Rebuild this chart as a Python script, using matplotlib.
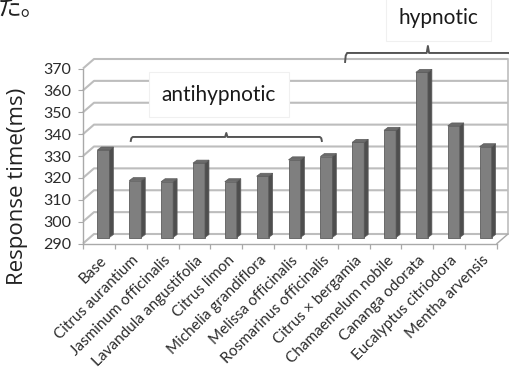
import matplotlib
matplotlib.use("Agg")
import matplotlib.pyplot as plt
from matplotlib.patches import Polygon
from matplotlib.transforms import ScaledTranslation

# ---- data -------------------------------------------------------------
categories = [
    "Base", "Citrus aurantium", "Jasminum officinalis", "Lavandula angustifolia",
    "Citrus limon", "Michelia grandiflora", "Melissa officinalis",
    "Rosmarinus officinalis", "Citrus \u00d7 bergamia", "Chamaemelum nobile",
    "Cananga odorata", "Eucalyptus citriodora", "Mentha arvensis",
]
response_ms = [330, 316, 315.5, 324, 315.5, 318, 325.5, 327, 333.5, 339, 365.5, 341, 331.5]
y_ticks = [290, 300, 310, 320, 330, 340, 350, 360, 370]
y_min, y_max = 290, 370

# group brackets: (start, end, tick position) in category units
antihypnotic_span = (1.0, 7.0, 4.0)
hypnotic_span = (7.73, 12.95, 10.33)

# ---- figure / axes ----------------------------------------------------
W, H = 510, 378
fig = plt.figure(figsize=(W / 100, H / 100), dpi=100)
fig.patch.set_facecolor("white")

L, R, B, T = 83, 497, 243.5, 68.5          # front plane in pixels
ax = fig.add_axes([L / W, 1 - B / H, (R - L) / W, (B - T) / H])
n = len(categories)
ax.set_xlim(-0.5, n - 0.5)
ax.set_ylim(y_min, y_max)
ax.set_facecolor("none")

px_x = (R - L) / n
px_y = (B - T) / (y_max - y_min)
dx = lambda p: p / px_x
dy = lambda p: p / px_y

grid_c = "#bdbdbd"
edge_c = "#a9a9a9"

# back-wall depth offset
bx, by = dx(11), dy(9.5)
x_lo, x_hi = -0.5, n - 0.5
for v in y_ticks:
    ax.plot([x_lo, x_lo + bx, x_hi + bx], [v, v + by, v + by],
            color=grid_c, lw=1.5, clip_on=False, zorder=1, solid_capstyle="butt")
ax.plot([x_hi + bx, x_hi + bx], [y_min + by, y_max + by], color=grid_c, lw=1.2,
        clip_on=False, zorder=1)
ax.plot([x_hi, x_hi + bx], [y_min, y_min + by], color=edge_c, lw=1.0,
        clip_on=False, zorder=1)

for side in ("top", "right"):
    ax.spines[side].set_visible(False)
for side in ("left", "bottom"):
    ax.spines[side].set_color(edge_c)
    ax.spines[side].set_linewidth(1.0)

# ---- 3D-looking columns ----------------------------------------------
ox, oy = dx(4.5), dy(6)      # columns sit part-way into the depth
w = dx(12)                   # front face width
sx, sy = dx(4), dy(3)        # column depth

front_c, side_c, top_c, line_c = "#7f7f7f", "#4e4e4e", "#6b6b6b", "#5c5c5c"
xs = [i + ox for i in range(n)]
heights = [v - y_min for v in response_ms]
ax.bar(xs, heights, bottom=y_min + oy, width=w, color=front_c,
       edgecolor=line_c, linewidth=0.6, zorder=3, clip_on=False)
for x, v in zip(xs, response_ms):
    xr = x + w / 2
    xl = x - w / 2
    top = v + oy
    side = Polygon([(xr, y_min + oy), (xr + sx, y_min + oy + sy),
                    (xr + sx, top + sy), (xr, top)], closed=True,
                   facecolor=side_c, edgecolor=line_c, linewidth=0.5,
                   zorder=3, clip_on=False)
    cap = Polygon([(xl, top), (xr, top), (xr + sx, top + sy), (xl + sx, top + sy)],
                  closed=True, facecolor=top_c, edgecolor=line_c, linewidth=0.5,
                  zorder=3, clip_on=False)
    ax.add_patch(side)
    ax.add_patch(cap)

# ---- ticks -------------------------------------------------------------
tick_font = "Lato"
ax.set_yticks(y_ticks)
ax.set_yticklabels([str(t) for t in y_ticks], fontsize=11.5, family=tick_font,
                   color="#2b2b2b")
ax.tick_params(axis="y", length=3.5, color=edge_c, pad=5)

ax.set_xticks(range(n))
ax.set_xticklabels(categories, rotation=45, ha="right", va="top",
                   rotation_mode="anchor", fontsize=11, family=tick_font,
                   color="#2b2b2b")
ax.tick_params(axis="x", which="major", length=0, pad=7)
ax.set_xticks([i - 0.5 for i in range(n + 1)], minor=True)
ax.tick_params(axis="x", which="minor", length=3.5, color=edge_c, width=0.9)
shift = ScaledTranslation(1 / 100, 0, fig.dpi_scale_trans)
for lab in ax.get_xticklabels():
    lab.set_transform(lab.get_transform() + shift)

fig.text(18 / W, 1 - 186 / H, "Response time(ms)", rotation=90, fontsize=16,
         family="Open Sans", color="#222222", ha="center", va="center")

# ---- group annotations ------------------------------------------------
def bracket(x0, x1, xc, y, drop_px, tick_px):
    d, t, r = dy(drop_px), dy(tick_px), dx(2)
    ax.plot([x0, x0 + r * 0.3, x0 + r, xc - r * 0.6, xc, xc + r * 0.6, x1 - r, x1 - r * 0.3, x1],
            [y - d, y - d * 0.3, y, y, y + t, y, y, y - d * 0.3, y - d],
            color="#555555", lw=1.4, clip_on=False, zorder=5,
            solid_joinstyle="round")

a0, a1, ac = antihypnotic_span
bracket(a0, a1, ac, 338.7, 4, 4)
h0, h1, hc = hypnotic_span
bracket(h0, h1, hc, 377.1, 9, 7)

box = dict(boxstyle="square,pad=0.6", facecolor="white", edgecolor="#f0f0f0",
           linewidth=0.8)
ax.text(3.77, 357.9, "antihypnotic", fontsize=15, family=tick_font,
        color="#1a1a1a", ha="center", va="center", bbox=box, zorder=4,
        clip_on=False)
ax.text(10.65, 393, "hypnotic", fontsize=15, family=tick_font,
        color="#1a1a1a", ha="center", va="center", bbox=box, zorder=4,
        clip_on=False)

# trailing characters of the preceding sentence
cjk = ["Noto Sans CJK JP", "DejaVu Sans"]
fig.text(-2 / W, 1 - 15 / H, "た。", fontsize=17, family=cjk, color="#222222",
         ha="left", va="baseline")

fig.savefig("out.png", dpi=100, facecolor="white")
